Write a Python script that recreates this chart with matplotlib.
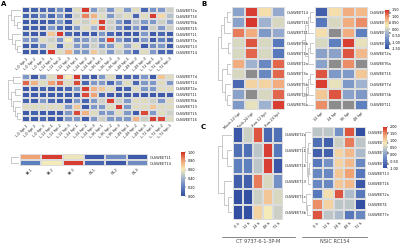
import numpy as np
import matplotlib
matplotlib.use("Agg")
import matplotlib.pyplot as plt
from matplotlib.colors import LinearSegmentedColormap

nan = np.nan

# ---------------- data ----------------
tpA = ["0 hpi", "12 hpi", "24 hpi", "36 hpi", "48 hpi", "72 hpi"]
colsA = [f"L-{t}-{r}" for t in tpA for r in (1, 2, 3)]

rowsA1 = ["OsSWEET2a", "OsSWEET16", "OsSWEET6b", "OsSWEET15",
          "OsSWEET11", "OsSWEET7a", "OsSWEET13", "OsSWEET14"]
valsA1 = [
    [0.05, 0.08, 0.10, 0.12, 0.25, 0.05, 0.55, 0.98, 0.30, 0.50, 0.28, 0.55, 0.30, 0.55, 0.10, 0.28, 0.30, 0.50],
    [0.08, 0.10, 0.25, 0.10, 0.28, 0.05, 0.50, 0.85, 0.75, 0.55, 0.30, 0.50, 0.55, 0.10, 0.55, 0.97, 0.65, 0.45],
    [0.05, 0.05, 0.05, 0.08, 0.30, 0.05, 0.55, 0.50, 0.65, 0.97, 0.50, 0.30, 0.10, 0.45, 0.30, 0.30, 0.50, 0.35],
    [0.05, 0.06, 0.05, 0.30, 0.10, 0.05, 0.30, 0.55, 0.40, 0.95, 0.50, 0.25, 0.08, 0.30, 0.10, 0.50, 0.30, 0.50],
    [0.08, 0.05, 0.05, 0.70, 0.98, 0.10, 0.05, 0.05, 0.05, 0.30, 0.10, 0.05, 0.05, 0.05, 0.30, 0.05, 0.10, 0.05],
    [0.30, 0.25, 0.55, 0.50, 0.30, 0.60, 0.25, 0.30, 0.45, 0.25, 0.95, 0.30, 0.15, 0.10, 0.30, 0.05, 0.20, 0.10],
    [0.05, 0.08, 0.30, 0.55, 0.10, 0.55, 0.30, 0.30, 0.50, 0.30, 0.30, 0.55, 0.35, 0.55, 0.05, 0.25, 0.30, 0.05],
    [0.05, 0.08, 0.05, 0.98, 0.55, 0.75, 0.30, 0.30, 0.70, 0.50, 0.30, 0.50, 0.30, 0.10, 0.55, 0.30, 0.10, 0.10],
]
treeA1 = ((0, (1, (2, 3, 0.35), 0.55), 0.8), (4, (5, (6, 7, 0.3), 0.5), 0.7), 1.0)

rowsA2 = ["OsSWEET7d", "OsSWEET14", "OsSWEET2a", "OsSWEET11",
          "OsSWEET6b", "OsSWEET13", "OsSWEET15", "OsSWEET16"]
valsA2 = [
    [0.30, 0.05, 0.30, 0.55, 0.95, 0.60, 0.98, 0.10, 0.05, 0.30, 0.55, 0.05, 0.10, 0.10, 0.30, 0.05, 0.70, 0.55],
    [0.90, 0.75, 0.55, 0.80, 0.90, 0.55, 0.95, 0.10, 0.30, 0.30, 0.10, 0.30, 0.55, 0.10, 0.30, 0.30, 0.55, 0.30],
    [0.05, 0.05, 0.08, 0.05, 0.05, 0.10, 0.30, 0.97, 0.75, 0.70, 0.55, 0.05, 0.08, 0.55, 0.30, 0.30, 0.55, 0.55],
    [0.05, 0.05, 0.05, 0.05, 0.05, 0.05, 0.05, 0.95, 0.80, 0.10, 0.05, 0.05, 0.05, 0.05, 0.05, 0.05, 0.05, 0.05],
    [0.08, 0.05, 0.30, 0.10, 0.05, 0.05, 0.30, 0.10, 0.30, 0.50, 0.97, 0.50, 0.30, 0.55, 0.55, 0.50, 0.30, 0.55],
    [0.55, 0.55, 0.55, 0.55, 0.55, 0.30, 0.70, 0.05, 0.30, 0.30, 0.55, 0.98, 0.30, 0.55, 0.55, 0.70, 0.55, 0.55],
    [0.05, 0.08, 0.05, 0.05, 0.05, 0.30, 0.95, 0.75, 0.55, 0.30, 0.30, 0.55, 0.30, 0.05, 0.95, 0.30, 0.55, 0.50],
    [0.05, 0.05, 0.10, 0.05, 0.05, 0.30, 0.30, 0.05, 0.30, 0.50, 0.30, 0.30, 0.30, 0.75, 0.50, 0.97, 0.95, 0.55],
]
treeA2 = ((0, 1, 0.6), ((2, 3, 0.45), (4, (5, (6, 7, 0.3), 0.45), 0.6), 0.8), 1.0)

rowsA3 = ["OsSWEET11", "OsSWEET14"]
colsA3 = ["PA-1", "PA-2", "PA-3", "CK-1", "CK-2", "CK-3"]
valsA3 = [
    [0.80, 0.97, 0.58, 0.05, 0.25, 0.05],
    [0.20, 0.60, 0.97, 0.10, 0.05, 0.25],
]
treeA3 = (0, 1, 1.0)

colsB1 = ["Mock-12 hpi", "Mock-24 hpi", "Xoo-12 hpi", "Xoo-24 hpi"]
rowsB1 = ["OsSWEET14", "OsSWEET16", "OsSWEET11", "OsSWEET6b", "OsSWEET1a",
          "OsSWEET2a", "OsSWEET3a", "OsSWEET5b", "OsSWEET3b", "OsSWEET6a"]
valsB1 = [
    [-0.5, 1.4, 0.4, -0.4],
    [-0.5, 1.45, -0.3, 0.1],
    [1.1, 0.8, -0.6, -0.4],
    [0.1, 1.3, 0.1, -1.0],
    [0.1, 1.2, 0.1, -1.0],
    [0.8, -0.3, -0.8, 1.2],
    [0.1, nan, -0.8, 1.2],
    [-1.2, 0.5, 0.5, 0.8],
    [-0.5, nan, 0.1, 1.2],
    [-0.6, 0.2, -0.3, 1.4],
]
treeB1 = ((((0, 1, 0.3), 2, 0.55), (3, 4, 0.2), 0.8),
          ((5, 6, 0.35), (7, (8, 9, 0.3), 0.5), 0.7), 1.0)

colsB2 = ["12 hpi", "24 hpi", "36 hpi", "48 hpi"]
rowsB2 = ["OsSWEET2b", "OsSWEET14", "OsSWEET1a", "OsSWEET6b", "OsSWEET2a",
          "OsSWEET6a", "OsSWEET16", "OsSWEET7d", "OsSWEET3b", "OsSWEET11"]
valsB2 = [
    [-1.3, 0.4, 0.8, 0.7],
    [-1.0, 0.1, 0.8, 1.0],
    [0.4, nan, 0.8, -0.9],
    [0.1, -0.9, 1.4, 0.2],
    [-0.5, -0.5, 1.3, 0.7],
    [-0.5, nan, 1.0, nan],
    [1.3, -0.6, -0.6, 0.6],
    [1.4, 0.2, -0.6, -0.3],
    [0.6, 1.3, -0.5, -0.6],
    [1.0, nan, nan, -0.9],
]
treeB2 = ((((0, 1, 0.3), 2, 0.5), ((3, 4, 0.35), 5, 0.5), 0.75),
          (((6, 7, 0.35), 8, 0.5), 9, 0.65), 1.0)

colsC = ["0 h", "12 h", "24 h", "48 h", "72 h"]
rowsC1 = ["OsSWEET2a", "OsSWEET11", "OsSWEET16", "OsSWEET13", "OsSWEET1c", "OsSWEET3b"]
valsC1 = [
    [-0.9, 0.5, 1.8, -0.7, -0.6],
    [-0.6, -0.6, 0.4, 1.9, -0.5],
    [-0.4, -0.4, 0.4, 1.9, -0.9],
    [-0.8, -0.8, 1.6, 0.6, -0.2],
    [-1.0, -1.0, 0.5, 1.1, 0.6],
    [-1.0, -1.0, 1.0, 0.8, 0.5],
]
treeC1 = ((0, (1, 2, 0.4), 0.75), (3, (4, 5, 0.3), 0.55), 1.0)

rowsC2 = ["OsSWEET1e", "OsSWEET1c", "OsSWEET2b", "OsSWEET3b", "OsSWEET13",
          "OsSWEET16", "OsSWEET2a", "OsSWEET4", "OsSWEET7e"]
valsC2 = [
    [0.4, 0.4, -0.2, 1.8, -1.0],
    [-0.6, -0.8, 0.5, 1.6, 0.4],
    [-0.8, -0.8, 1.0, 1.2, 0.3],
    [-0.5, -0.2, 1.0, 1.2, -0.3],
    [-0.3, -0.3, 1.1, 1.4, -0.5],
    [-0.3, -0.3, 1.1, 1.2, -0.9],
    [-0.5, 0.9, 1.8, 0.3, -0.5],
    [1.5, 1.0, 0.4, 0.4, -1.0],
    [1.8, 0.4, 0.3, -0.5, -0.3],
]
treeC2 = ((0, ((1, 2, 0.3), ((3, 4, 0.2), 5, 0.3), 0.45), 0.7),
          (6, (7, 8, 0.4), 0.6), 1.0)

ticksA = [0.0, 0.2, 0.4, 0.6, 0.8, 1.0]
ticksB = [-1.5, -1.0, -0.5, 0.0, 0.5, 1.0, 1.5]
ticksC = [-1.0, -0.5, 0.0, 0.5, 1.0, 1.5, 2.0]
groupsC = ["CT 9737-6-1-3P-M", "NSIC RC154"]

# ---------------- style ----------------
cmap = LinearSegmentedColormap.from_list(
    "ph", ["#3350a3", "#5f80bf", "#9fb2d0", "#f5ebb8", "#f0a274", "#d42d26"])
cmap.set_bad("#8c8c8c")

W, H = 400, 245
fig = plt.figure(figsize=(4.0, 2.45), dpi=100)
FS = 2.6


def box(x0, y0, x1, y1):
    return [x0 / W, 1 - y1 / H, (x1 - x0) / W, (y1 - y0) / H]


def heat(bx, vals, rows, cols, vmin, vmax, rot=45):
    ax = fig.add_axes(box(*bx))
    arr = np.ma.masked_invalid(np.array(vals, dtype=float))
    m = ax.pcolormesh(arr, cmap=cmap, vmin=vmin, vmax=vmax,
                      edgecolors="#dcdcdc", linewidth=0.15)
    ax.set_xlim(0, arr.shape[1])
    ax.set_ylim(arr.shape[0], 0)
    ax.yaxis.tick_right()
    ax.set_yticks(np.arange(len(rows)) + 0.5)
    ax.set_yticklabels(rows, fontsize=FS, color="#222222")
    ax.set_xticks(np.arange(len(cols)) + 0.5)
    ax.set_xticklabels(cols, fontsize=FS, rotation=rot, ha="right",
                       rotation_mode="anchor", color="#222222")
    ax.tick_params(length=0, pad=1.2)
    for s in ax.spines.values():
        s.set_visible(False)
    return m


def dend(bx, tree, n):
    ax = fig.add_axes(box(*bx))

    def rec(node):
        if isinstance(node, int):
            return node + 0.5, 0.0
        l, r, h = node
        yl, hl = rec(l)
        yr, hr = rec(r)
        ax.plot([hl, h, h, hr], [yl, yl, yr, yr], color="#a0a0a0", lw=0.4,
                solid_capstyle="butt")
        return (yl + yr) / 2, h

    rec(tree)
    ax.set_xlim(1.02, 0)
    ax.set_ylim(n, 0)
    ax.axis("off")


def cbar(bx, mappable, ticks):
    cax = fig.add_axes(box(*bx))
    cb = fig.colorbar(mappable, cax=cax, ticks=ticks)
    cb.ax.set_yticklabels([f"{t:.2f}" for t in ticks], fontsize=2.4)
    cb.ax.tick_params(length=1, width=0.3, pad=0.8)
    cb.outline.set_visible(False)


# ---------------- panel A ----------------
mA = heat((22, 7, 174, 55), valsA1, rowsA1, colsA, 0, 1)
dend((8, 7, 21, 55), treeA1, len(rowsA1))
heat((22, 74, 174, 122), valsA2, rowsA2, colsA, 0, 1)
dend((8, 74, 21, 122), treeA2, len(rowsA2))
heat((20, 154, 148, 166), valsA3, rowsA3, colsA3, 0, 1)
dend((11, 154, 19, 166), treeA3, len(rowsA3))
cbar((181, 152, 185, 196), mA, ticksA)

# ---------------- panel B ----------------
heat((232, 7, 285, 110), valsB1, rowsB1, colsB1, -1.5, 1.5)
dend((218, 7, 231, 110), treeB1, len(rowsB1))
mB = heat((315, 7, 368, 110), valsB2, rowsB2, colsB2, -1.5, 1.5)
dend((302, 7, 314, 110), treeB2, len(rowsB2))
cbar((385, 10, 389, 49), mB, ticksB)

# ---------------- panel C ----------------
heat((233, 127, 283, 220), valsC1, rowsC1, colsC, -1.0, 2.0)
dend((218, 127, 232, 220), treeC1, len(rowsC1))
mC = heat((312, 127, 366, 220), valsC2, rowsC2, colsC, -1.0, 2.0)
dend((302, 127, 311, 220), treeC2, len(rowsC2))
cbar((383, 127, 387, 168), mC, ticksC)

# group lines and labels under C
lax = fig.add_axes([0, 0, 1, 1], facecolor="none")
lax.set_xlim(0, W)
lax.set_ylim(H, 0)
lax.axis("off")
for (x0, x1), g in zip([(222, 295), (302, 367)], groupsC):
    lax.plot([x0, x1], [236.5, 236.5], color="#555555", lw=0.5)
    lax.text((x0 + x1) / 2, 241.5, g, fontsize=3.6, color="#444444",
             ha="center", va="center")

# panel letters
for (x, y), t in zip([(1, 4), (201, 4), (201, 127)], ["A", "B", "C"]):
    lax.text(x, y, t, fontsize=5, fontweight="bold", ha="left", va="center")

fig.savefig("out.png", dpi=100)
